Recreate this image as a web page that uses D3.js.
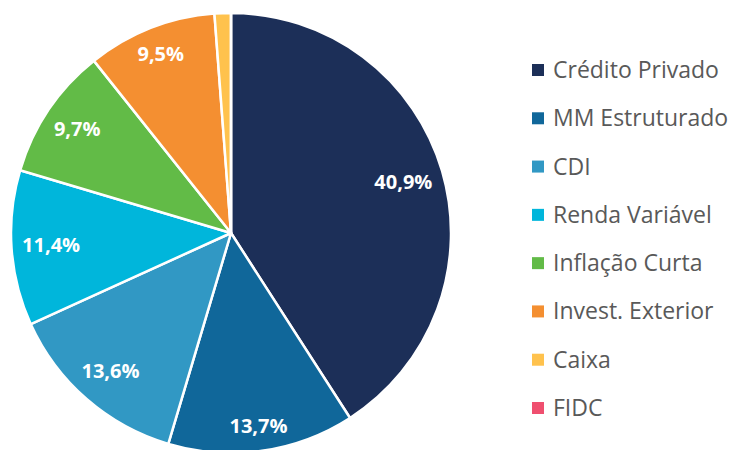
<!DOCTYPE html>
<html lang="en">
<head>
<meta charset="UTF-8">
<title>Pie Chart</title>
<style>
    body { margin: 0; background: #fff; }
    svg { display: block; }
    .legend text { fill: #595959; font-family: "Open Sans", sans-serif; font-size: 23px; }
    .slice-label { fill: #fff; font-family: "Open Sans", sans-serif; font-size: 20px; font-weight: bold; }
</style>
</head>
<body>
<svg id="chart" width="733" height="450"></svg>
<script src="https://cdn.jsdelivr.net/npm/d3@7"></script>
<script>
    // categories and shares (%)
    const categories = ["Crédito Privado", "MM Estruturado", "CDI", "Renda Variável",
        "Inflação Curta", "Invest. Exterior", "Caixa", "FIDC"];
    const values = [40.9, 13.7, 13.6, 11.4, 9.7, 9.5, 1.2, 0];
    const labels = ["40,9%", "13,7%", "13,6%", "11,4%", "9,7%", "9,5%", "", ""];
    const colors = ["#1c2f58", "#10679a", "#3198c4", "#00b6db", "#62bb47", "#f48f31", "#ffc24d", "#ef4f6f"];

    const svg = d3.select("#chart");
    const cx = 231, cy = 233, radius = 220;

    const pie = d3.pie().sort(null).value(d => d.value);
    const data = categories.map((c, i) => ({ name: c, value: values[i], label: labels[i], color: colors[i] }));
    const arcs = pie(data);

    const arc = d3.arc().innerRadius(0).outerRadius(radius);

    const g = svg.append("g").attr("transform", `translate(${cx},${cy})`);

    g.selectAll("path")
        .data(arcs)
        .enter().append("path")
        .attr("d", arc)
        .attr("fill", d => d.data.color)
        .attr("stroke", "#fff")
        .attr("stroke-width", 2.5)
        .attr("stroke-linejoin", "round");

    // labels placed "inside end": push the label box outwards until a corner hits radius - pad
    const pad = 10;
    const texts = g.selectAll("text")
        .data(arcs.filter(d => d.data.label))
        .enter().append("text")
        .attr("class", "slice-label")
        .attr("text-anchor", "middle")
        .attr("dy", "0.35em")
        .text(d => d.data.label);

    texts.each(function(d) {
        const bb = this.getBBox();
        const hw = bb.width / 2, hh = 9;
        const a = (d.startAngle + d.endAngle) / 2;
        const ux = Math.sin(a), uy = -Math.cos(a);
        const far = dist => {
            const x = ux * dist, y = uy * dist;
            return d3.max([[-hw, -hh], [hw, -hh], [-hw, hh], [hw, hh]], c => Math.hypot(x + c[0], y + c[1]));
        };
        let lo = 0, hi = radius;
        for (let k = 0; k < 40; k++) {
            const mid = (lo + hi) / 2;
            if (far(mid) > radius - pad) hi = mid; else lo = mid;
        }
        d3.select(this).attr("transform", `translate(${ux * lo},${uy * lo})`);
    });

    // legend
    const legendY = d3.scalePoint().domain(categories).range([70, 408]);
    const legend = svg.append("g").attr("class", "legend");
    const items = legend.selectAll("g")
        .data(data)
        .enter().append("g")
        .attr("transform", d => `translate(532,${legendY(d.name)})`);

    items.append("rect")
        .attr("x", 0).attr("y", -6)
        .attr("width", 12).attr("height", 12)
        .attr("fill", d => d.color);

    items.append("text")
        .attr("x", 21)
        .attr("dy", "0.35em")
        .text(d => d.name);
</script>
</body>
</html>
